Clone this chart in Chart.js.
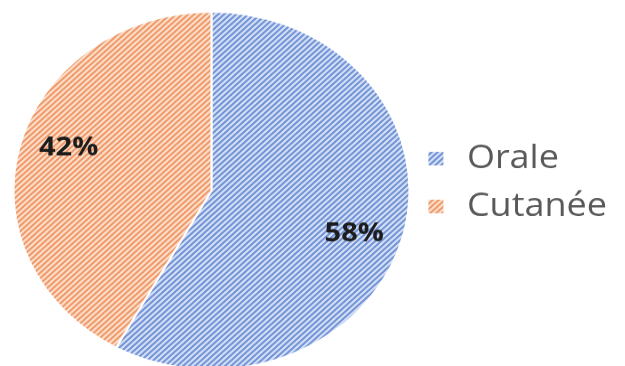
<!DOCTYPE html>
<html>
<head>
<meta charset="utf-8">
<script src="https://cdn.jsdelivr.net/npm/chart.js@4"></script>
<style>
  body { margin: 0; background: #fff; overflow: hidden; }
  #wrap { width: 625px; height: 410px; transform: scaleY(0.9037); transform-origin: 0 0; }
</style>
</head>
<body>
<div id="wrap"><canvas id="myChart" width="625" height="410"></canvas></div>
<script>
const labels = ['Orale', 'Cutanée'];
const values = [58, 42];

const ctx = document.getElementById('myChart');

// petit motif hachuré (diagonale montante)
function hatch(bg, fg) {
  const c = document.createElement('canvas');
  c.width = 6; c.height = 6;
  const g = c.getContext('2d');
  g.fillStyle = bg;
  g.fillRect(0, 0, 6, 6);
  g.strokeStyle = fg;
  g.lineWidth = 2;
  g.beginPath();
  g.moveTo(0, 6); g.lineTo(6, 0);
  g.moveTo(-1, 1); g.lineTo(1, -1);
  g.moveTo(5, 7); g.lineTo(7, 5);
  g.stroke();
  return ctx.getContext('2d').createPattern(c, 'repeat');
}

const blue = hatch('rgb(214,225,246)', 'rgb(112,146,214)');
const orange = hatch('rgb(252,224,204)', 'rgb(240,152,104)');

const pctLabels = {
  id: 'pctLabels',
  afterDatasetsDraw(chart) {
    const c = chart.ctx;
    const total = values.reduce((a, b) => a + b, 0);
    chart.getDatasetMeta(0).data.forEach((arc, i) => {
      const a = (arc.startAngle + arc.endAngle) / 2 + 0.07;
      const r = arc.outerRadius * 0.76;
      c.save();
      c.font = 'bold 29px "Open Sans"';
      c.fillStyle = '#1c1c1c';
      c.textAlign = 'center';
      c.textBaseline = 'middle';
      c.fillText(Math.round(values[i] / total * 100) + '%', arc.x + Math.cos(a) * r, arc.y + Math.sin(a) * r);
      c.restore();
    });
  }
};

// recale un peu la légende
const legendShift = {
  id: 'legendShift',
  afterLayout(chart) {
    chart.legend.top -= 9;
    chart.legend.bottom -= 9;
    chart.legend.left -= 6;
    chart.legend.right -= 6;
  }
};

new Chart(ctx, {
  type: 'pie',
  data: {
    labels: labels,
    datasets: [{
      data: values,
      backgroundColor: [blue, orange],
      borderColor: '#fff',
      borderWidth: 2
    }]
  },
  options: {
    responsive: false,
    animation: false,
    layout: { padding: { left: 11, top: 12, right: 2, bottom: 0 } },
    plugins: {
      tooltip: { enabled: false },
      legend: {
        position: 'right',
        labels: {
          usePointStyle: true,
          pointStyle: 'rect',
          boxWidth: 26,
          boxHeight: 17,
          padding: 17,
          color: '#595959',
          font: { family: '"Open Sans"', size: 36 }
        }
      }
    }
  },
  plugins: [pctLabels, legendShift]
});
</script>
</body>
</html>
